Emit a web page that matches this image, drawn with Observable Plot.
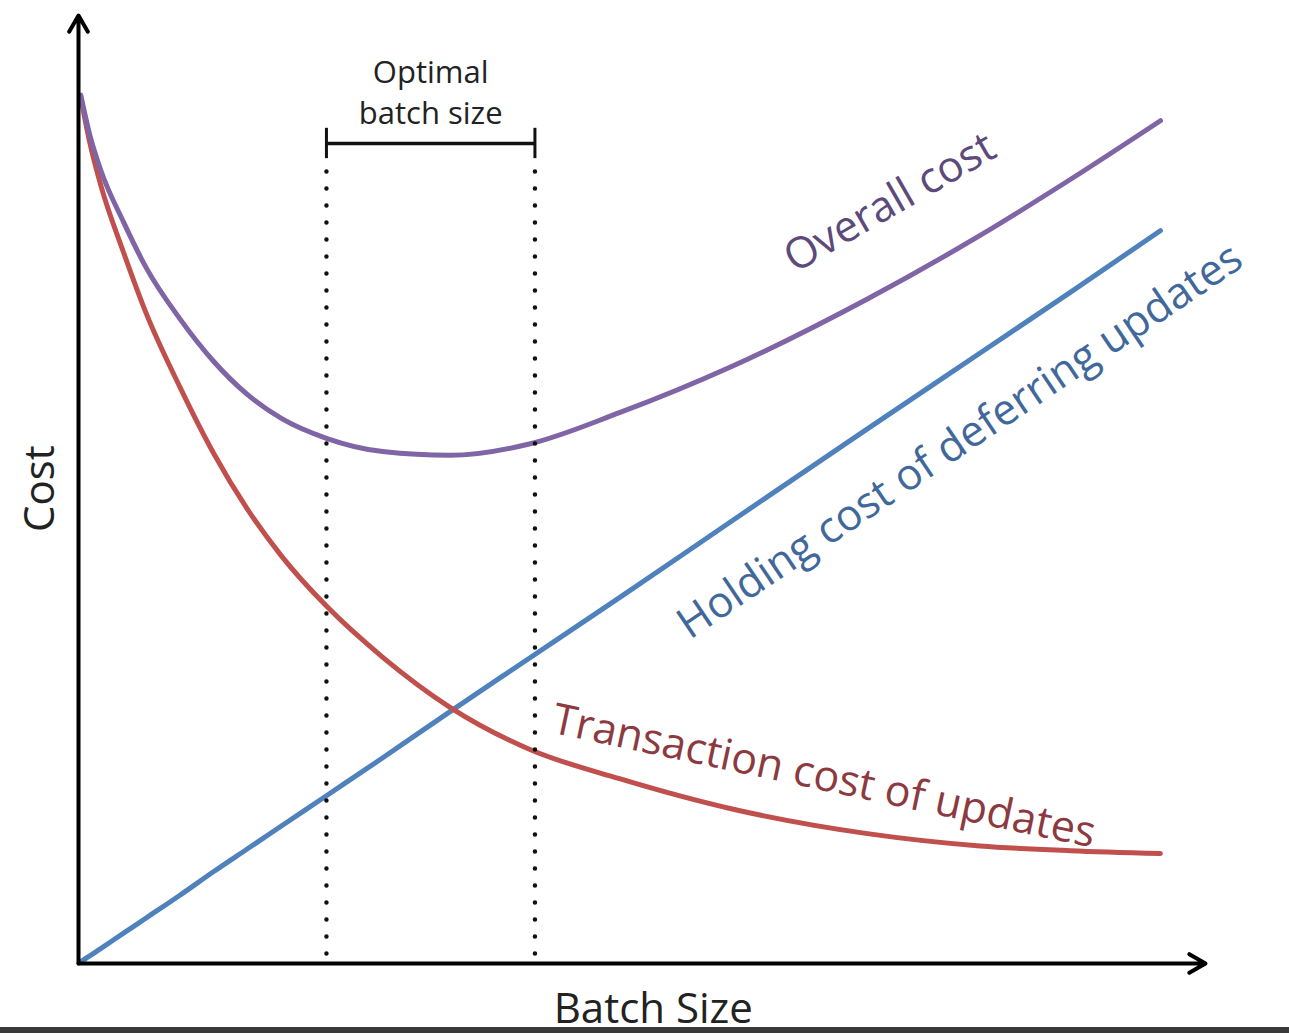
<!DOCTYPE html>
<html><head><meta charset="utf-8">
<script src="https://cdn.jsdelivr.net/npm/d3@7"></script>
<script src="https://cdn.jsdelivr.net/npm/@observablehq/plot@0.6"></script>
<style>
html,body{margin:0;padding:0;background:#fff;overflow:hidden}
#bar{height:6px;background:#3a3a3a}
</style>
</head><body><div id="chart"></div><div id="bar"></div>
<script>
// Batch size (arbitrary units, 0-100) and cost (arbitrary units, 0-100)
const batchSize       = [0.2, 1, 2, 4, 6, 9, 12, 15, 18, 22, 27, 33, 40, 48, 58, 70, 80, 88, 96];
const transactionCost = [91.4, 86.6, 82.0, 75.0, 68.6, 60.8, 53.8, 47.9, 43.0, 37.7, 32.3, 27.0, 22.6, 19.5, 16.3, 13.7, 12.4, 11.9, 11.6];
const holdingCost     = [0.2, 0.8, 1.6, 3.2, 4.8, 7.2, 9.7, 12.1, 14.5, 17.7, 21.7, 26.6, 32.2, 38.6, 46.7, 56.4, 64.4, 70.8, 77.3];
const overallCost     = [91.6, 87.4, 83.6, 78.2, 73.4, 68.0, 63.5, 60.0, 57.5, 55.4, 54.0, 53.6, 54.8, 58.1, 63.0, 70.1, 76.8, 82.7, 88.9];

const optimalRange = [22.0, 40.5];   // batch sizes bounding the optimal region
const bracketLevel = 86.5;            // cost level of the bracket

const seriesNames  = ["Holding cost of deferring updates", "Transaction cost of updates", "Overall cost"];
const seriesColors = ["#4f81bd", "#c0504d", "#7f64a6"];
const labelColors  = ["#41689a", "#8c3a3f", "#5c4a7a"];

const toRows = (ys) => batchSize.map((x, i) => ({x, y: ys[i]}));
const holding = toRows(holdingCost);
const transaction = toRows(transactionCost);
const overall = toRows(overallCost);

const labels = [
  {x: 78.9, y: 53.9, text: seriesNames[0], rotate: -34, fill: labelColors[0]},
  {x: 65.9, y: 18.3, text: seriesNames[1], rotate: 12, fill: labelColors[1]},
  {x: 72.6, y: 79.0, text: seriesNames[2], rotate: -30, fill: labelColors[2]}
];

const font = "'Open Sans', 'Noto Sans', sans-serif";

const chart = Plot.plot({
  width: 1289,
  height: 1027,
  marginLeft: 78,
  marginRight: 84,
  marginTop: 15,
  marginBottom: 64,
  x: {domain: [0, 100], axis: null},
  y: {domain: [0, 100], axis: null},
  style: {fontFamily: font, background: "#fff", overflow: "visible"},
  marks: [
    Plot.line(holding, {x: "x", y: "y", stroke: seriesColors[0], strokeWidth: 5, curve: "monotone-x"}),
    Plot.line(transaction, {x: "x", y: "y", stroke: seriesColors[1], strokeWidth: 5, curve: "monotone-x"}),
    Plot.line(overall, {x: "x", y: "y", stroke: seriesColors[2], strokeWidth: 5, curve: "monotone-x"}),
    // dotted verticals of the optimal region
    Plot.ruleX(optimalRange, {y1: 1, y2: bracketLevel - 1.5, stroke: "#111", strokeWidth: 4.5, strokeDasharray: "0 17", strokeLinecap: "round"}),
    // bracket
    Plot.ruleY([bracketLevel], {x1: optimalRange[0], x2: optimalRange[1], stroke: "#111", strokeWidth: 3.5}),
    Plot.ruleX(optimalRange, {y1: bracketLevel - 1.6, y2: bracketLevel + 1.6, stroke: "#111", strokeWidth: 3}),
    Plot.text(["Optimal\nbatch size"], {x: (optimalRange[0] + optimalRange[1]) / 2, y: 88.6, lineAnchor: "bottom", lineHeight: 1.3, fontSize: 31, fill: "#222"}),
    // axes with arrowheads
    Plot.arrow([{x1: 0, y1: 0, x2: 100, y2: 0}], {x1: "x1", y1: "y1", x2: "x2", y2: "y2", stroke: "#000", strokeWidth: 4, headLength: 7}),
    Plot.arrow([{x1: 0, y1: 0, x2: 0, y2: 100}], {x1: "x1", y1: "y1", x2: "x2", y2: "y2", stroke: "#000", strokeWidth: 4, headLength: 7}),
    // series labels
    Plot.text(labels, {x: "x", y: "y", text: "text", rotate: "rotate", fill: "fill", fontSize: 43, lineAnchor: "bottom", textAnchor: "middle"}),
    // axis titles
    Plot.text(["Batch Size"], {x: 51.0, y: 0, dy: 59, lineAnchor: "bottom", fontSize: 42, fill: "#222"}),
    Plot.text(["Cost"], {x: 0, y: 50.1, dx: -38, rotate: -90, lineAnchor: "middle", fontSize: 42, fill: "#222"})
  ]
});
document.getElementById("chart").append(chart);
</script></body></html>
